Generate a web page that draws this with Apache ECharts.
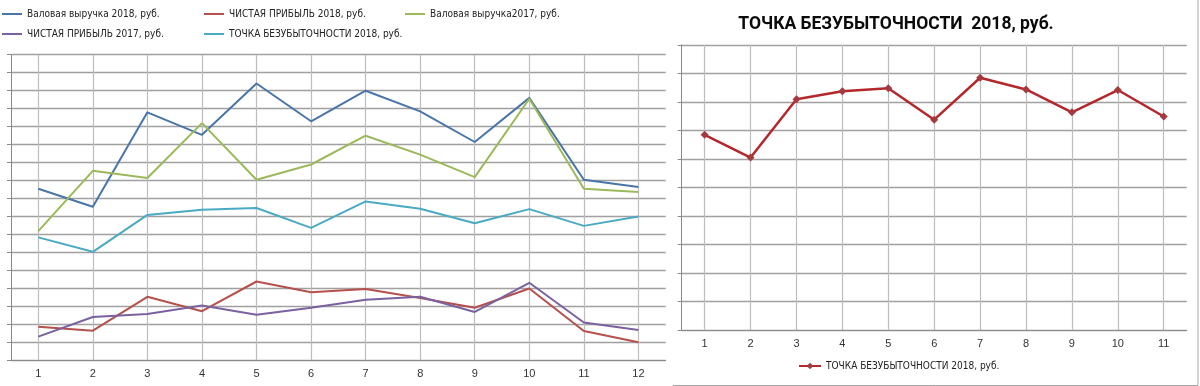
<!DOCTYPE html>
<html>
<head>
<meta charset="utf-8">
<script src="https://cdn.jsdelivr.net/npm/echarts@6/dist/echarts.min.js"></script>
<style>
html,body{margin:0;padding:0;background:#fff;}
#c{width:1200px;height:386px;}
</style>
</head>
<body>
<div id="c"></div>
<script>
// Categories (months)
const categories = ['1','2','3','4','5','6','7','8','9','10','11','12'];
// Series values (in grid units, y-axis labels are cropped in the reference)
const grossRevenue2018 = [9.55, 8.55, 13.8, 12.55, 15.4, 13.3, 15.0, 13.85, 12.15, 14.6, 10.05, 9.65];
const netProfit2018    = [1.88, 1.67, 3.55, 2.75, 4.4, 3.8, 3.98, 3.48, 2.94, 4.01, 1.65, 1.02];
const grossRevenue2017 = [7.2, 10.55, 10.15, 13.2, 10.05, 10.9, 12.5, 11.45, 10.2, 14.55, 9.55, 9.37];
const netProfit2017    = [1.34, 2.43, 2.6, 3.07, 2.55, 2.94, 3.38, 3.55, 2.71, 4.33, 2.12, 1.71];
const breakEven2018    = [6.85, 6.05, 8.1, 8.38, 8.48, 7.38, 8.85, 8.44, 7.64, 8.42, 7.49, 8.01];
// Right chart: first 11 months of break-even point
const rightCategories = categories.slice(0, 11);
const rightBreakEven = breakEven2018.slice(0, 11);

const names = {
  gr18: 'Валовая выручка 2018, руб.',
  np18: 'ЧИСТАЯ ПРИБЫЛЬ 2018, руб.',
  gr17: 'Валовая выручка2017, руб.',
  np17: 'ЧИСТАЯ ПРИБЫЛЬ 2017, руб.',
  be18: 'ТОЧКА БЕЗУБЫТОЧНОСТИ 2018, руб.'
};
const rightName = 'ТОЧКА БЕЗУБЫТОЧНОСТИ 2018, руб. ';

const legendFont = {fontFamily: '"Liberation Sans Narrow","DejaVu Sans Condensed",sans-serif', fontSize: 10, color: '#222'};
function lg(name, left, top) {
  return {data: [name], left: left, top: top, padding: 0, itemWidth: 20, itemHeight: 2, icon: 'rect',
          itemGap: 0, textStyle: legendFont, selectedMode: false};
}

const gridColor = '#a0a0a0';
const vGridColor = '#bdbdbd';
const axisColor = '#8a8a8a';
const labelStyle = {fontFamily: '"Liberation Sans",Arial,sans-serif', fontSize: 11, color: '#333', margin: 8};

function lineSeries(name, data, color) {
  return {name: name, type: 'line', data: data, xAxisIndex: 0, yAxisIndex: 0,
          symbol: 'none', smooth: false, lineStyle: {width: 2, color: color}, itemStyle: {color: color},
          silent: true, animation: false};
}

const chart = echarts.init(document.getElementById('c'), null, {renderer: 'canvas'});
chart.setOption({
  animation: false,
  backgroundColor: '#fff',
  title: {
    text: 'ТОЧКА БЕЗУБЫТОЧНОСТИ  2018, руб.',
    left: 891, top: 11, textAlign: 'center',
    textStyle: {fontFamily: 'Roboto,"Noto Sans",sans-serif', fontWeight: 'bold', fontSize: 17.5, color: '#0a0a0a'}
  },
  legend: [
    lg(names.gr18, 2, 9),
    lg(names.np18, 204, 9),
    lg(names.gr17, 405, 9),
    lg(names.np17, 2, 29),
    lg(names.be18, 204, 29),
    {data: [rightName], left: 798, top: 361, padding: 0, itemWidth: 22, itemHeight: 8,
     textStyle: legendFont, selectedMode: false}
  ],
  grid: [
    {left: 11, right: 534.3, top: 54.7, bottom: 25.3, containLabel: false},
    {left: 681.7, right: 13.3, top: 45, bottom: 56, containLabel: false}
  ],
  xAxis: [
    {type: 'category', gridIndex: 0, data: categories, boundaryGap: true,
     axisLine: {lineStyle: {color: axisColor}}, axisTick: {length: 4, lineStyle: {color: axisColor}},
     axisLabel: labelStyle,
     splitLine: {show: true, alignWithLabel: true, lineStyle: {color: vGridColor, width: 1.2}}},
    {type: 'category', gridIndex: 1, data: rightCategories, boundaryGap: true,
     axisLine: {lineStyle: {color: axisColor}}, axisTick: {length: 4, lineStyle: {color: axisColor}},
     axisLabel: labelStyle,
     splitLine: {show: true, alignWithLabel: true, lineStyle: {color: vGridColor, width: 1.2}}}
  ],
  yAxis: [
    {type: 'value', gridIndex: 0, min: 0, max: 17, interval: 1,
     axisLine: {show: true, lineStyle: {color: axisColor}}, axisTick: {show: true, length: 4, lineStyle: {color: axisColor}},
     axisLabel: {show: false}, splitLine: {show: true, lineStyle: {color: gridColor, width: 1.3}}},
    {type: 'value', gridIndex: 1, min: 0, max: 10, interval: 1,
     axisLine: {show: true, lineStyle: {color: axisColor}}, axisTick: {show: true, length: 4, lineStyle: {color: axisColor}},
     axisLabel: {show: false}, splitLine: {show: true, lineStyle: {color: gridColor, width: 1.3}}}
  ],
  series: [
    lineSeries(names.gr18, grossRevenue2018, '#4a75a8'),
    lineSeries(names.np18, netProfit2018, '#b6504c'),
    lineSeries(names.gr17, grossRevenue2017, '#9bb95a'),
    lineSeries(names.np17, netProfit2017, '#7a62a0'),
    lineSeries(names.be18, breakEven2018, '#4aaac4'),
    {name: rightName, type: 'line', data: rightBreakEven, xAxisIndex: 1, yAxisIndex: 1,
     symbol: 'diamond', symbolSize: 8, smooth: false,
     lineStyle: {width: 2.5, color: '#b4272b'}, itemStyle: {color: '#a23a40'}, silent: true}
  ],
  graphic: [
    {type: 'polyline', silent: true,
     shape: {points: [[673, 385.5], [1198, 385.5], [1198, 0]]},
     style: {stroke: '#a8a8a8', lineWidth: 1, fill: null}}
  ]
});
</script>
</body>
</html>
